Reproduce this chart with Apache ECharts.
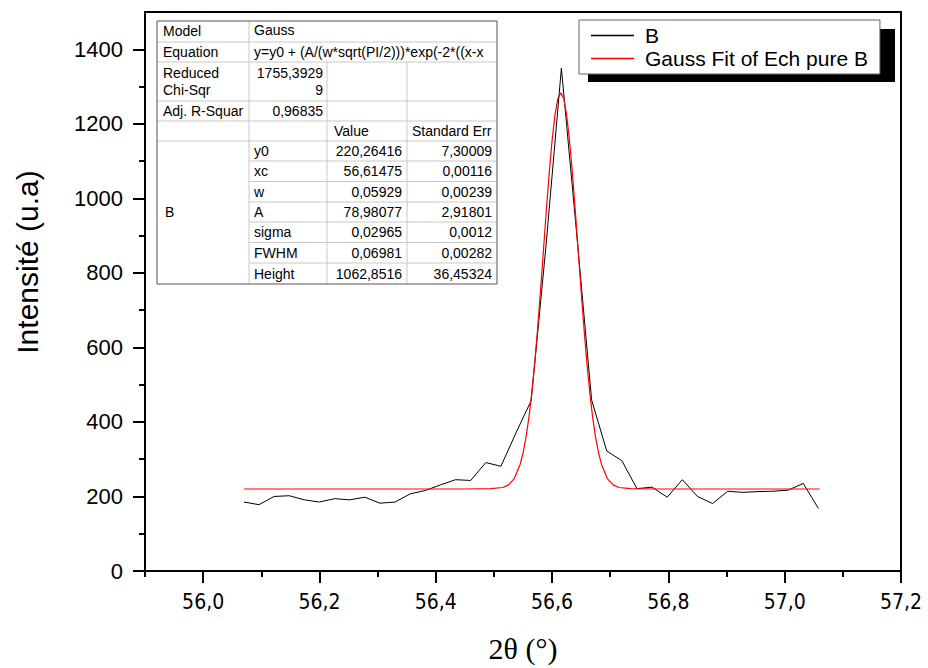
<!DOCTYPE html>
<html>
<head>
<meta charset="utf-8">
<title>Gauss fit B</title>
<script src="https://cdn.jsdelivr.net/npm/echarts@6/dist/echarts.min.js"></script>
<style>
  html, body { margin: 0; padding: 0; background: #fff; }
  #main { width: 928px; height: 668px; }
</style>
</head>
<body>
<div id="main"></div>
<script>
// ---------------- données ----------------
// points mesurés (2θ, intensité)
var xB = [56.070, 56.096, 56.122, 56.148, 56.174, 56.200, 56.226, 56.252, 56.278, 56.304,
          56.330, 56.356, 56.382, 56.408, 56.434, 56.460, 56.486, 56.512, 56.538, 56.564,
          56.590, 56.616, 56.642, 56.668, 56.694, 56.720, 56.746, 56.772, 56.798, 56.824,
          56.850, 56.876, 56.902, 56.928, 56.954, 56.980, 57.006, 57.032, 57.058];
var yB = [185, 178, 200, 202, 191, 185, 194, 191, 198, 182,
          185, 207, 216, 231, 245, 243, 291, 281, 371, 457,
          880, 1349, 910, 459, 322, 296, 221, 225, 198, 245,
          200, 181, 214, 211, 213, 214, 217, 235, 168];

// courbe rouge (ajustement gaussien)
var xFit = [56.07, 56.45, 56.495, 56.515, 56.525, 56.535, 56.545, 56.55, 56.555, 56.56,
            56.565, 56.57, 56.575, 56.58, 56.585, 56.59, 56.595, 56.60, 56.605, 56.61,
            56.615,
            56.62, 56.625, 56.63, 56.635, 56.64, 56.645, 56.65, 56.655, 56.66, 56.665,
            56.67, 56.675, 56.68, 56.685, 56.695, 56.705, 56.715, 56.735, 56.78, 57.06];
var yFit = [220, 220, 221, 224, 231, 248, 286, 316, 357, 410,
            476, 556, 648, 750, 857, 965, 1067, 1155, 1224, 1268,
            1283,
            1268, 1224, 1155, 1067, 965, 857, 750, 648, 556, 476,
            410, 357, 316, 286, 248, 231, 224, 221, 220, 220];

// graduations
var xTicks = [56.0, 56.2, 56.4, 56.6, 56.8, 57.0, 57.2];
var xMinor = [55.9, 56.1, 56.3, 56.5, 56.7, 56.9, 57.1];
var yTicks = [0, 200, 400, 600, 800, 1000, 1200, 1400];
var yMinor = [100, 300, 500, 700, 900, 1100, 1300];

// tableau des paramètres
var paramNames = ['y0', 'xc', 'w', 'A', 'sigma', 'FWHM', 'Height'];
var paramValues = ['220,26416', '56,61475', '0,05929', '78,98077', '0,02965', '0,06981', '1062,8516'];
var paramErrors = ['7,30009', '0,00116', '0,00239', '2,91801', '0,0012', '0,00282', '36,45324'];

// ---------------- graphique ----------------
var chart = echarts.init(document.getElementById('main'), null, { renderer: 'svg' });

function pairs(xs, ys) {
  var out = [];
  for (var i = 0; i < xs.length; i++) out.push([xs[i], ys[i]]);
  return out;
}
function comma(v) { return v.toFixed(1).replace('.', ','); }

// table (dessinée avec des éléments graphic)
var cols = [157, 249, 327, 407, 497];
var rows = [21, 42, 62, 101, 121, 141, 161, 181.5, 202, 222, 242.5, 263, 284];
var tblFont = '14px "Liberation Sans", Arial, sans-serif';
var gridLine = '#c8c8c8';
var tbl = [];
tbl.push({ type: 'rect', shape: { x: cols[0], y: rows[0], width: cols[4] - cols[0], height: rows[12] - rows[0] },
           style: { fill: '#fff', stroke: null }, z: 10 });
function hline(y, x1, x2) {
  tbl.push({ type: 'line', shape: { x1: x1, y1: y, x2: x2, y2: y }, style: { stroke: gridLine, lineWidth: 1 }, z: 11 });
}
function vline(x, y1, y2) {
  tbl.push({ type: 'line', shape: { x1: x, y1: y1, x2: x, y2: y2 }, style: { stroke: gridLine, lineWidth: 1 }, z: 11 });
}
function txt(s, x, y, align) {
  tbl.push({ type: 'text', x: x, y: y, z: 12,
             style: { text: s, font: tblFont, fill: '#000', align: align || 'left', verticalAlign: 'middle' } });
}
for (var r = 1; r <= 5; r++) hline(rows[r], cols[0], cols[4]);
for (var r2 = 6; r2 <= 11; r2++) hline(rows[r2], cols[1], cols[4]);
vline(cols[1], rows[0], rows[12]);
vline(cols[2], rows[2], rows[12]);
vline(cols[3], rows[2], rows[12]);
tbl.push({ type: 'rect', shape: { x: cols[0], y: rows[0], width: cols[4] - cols[0], height: rows[12] - rows[0] },
           style: { fill: null, stroke: '#555', lineWidth: 1 }, z: 13 });

txt('Model', 163, 31);
txt('Gauss', 254, 30);
txt('Equation', 163, 52);
txt('y=y0 + (A/(w*sqrt(PI/2)))*exp(-2*((x-x', 254, 52);
txt('Reduced', 163, 73);
txt('Chi-Sqr', 163, 90);
txt('1755,3929', 323, 73, 'right');
txt('9', 323, 90, 'right');
txt('Adj. R-Squar', 163, 111);
txt('0,96835', 323, 111, 'right');
txt('Value', 334, 131);
txt('Standard Err', 412, 131);
txt('B', 165, 212);
for (var k = 0; k < paramNames.length; k++) {
  var cy = (rows[5 + k] + rows[6 + k]) / 2;
  txt(paramNames[k], 254, cy);
  txt(paramValues[k], 402, cy, 'right');
  txt(paramErrors[k], 492, cy, 'right');
}

var option = {
  animation: false,
  backgroundColor: '#fff',
  grid: {
    left: 145, right: 27, top: 12, bottom: 91,
    show: true, borderColor: '#000', borderWidth: 2, backgroundColor: 'transparent'
  },
  legend: {
    left: 579, top: 20,
    orient: 'vertical',
    data: ['B', 'Gauss Fit of Ech pure B'],
    icon: 'rect',
    itemWidth: 43, itemHeight: 1.5, itemGap: 0,
    padding: [4, 12, 4, 12],
    backgroundColor: '#fff',
    borderColor: '#666', borderWidth: 1,
    textStyle: { fontFamily: '"Liberation Sans", Arial, sans-serif', fontSize: 21, color: '#000',
                 lineHeight: 23, padding: [0, 0, 0, 6] },
    z: 20
  },
  xAxis: [{
    type: 'value', min: 55.9, max: 57.2, position: 'bottom',
    name: '2θ (°)', nameLocation: 'middle', nameGap: 62,
    nameTextStyle: { fontFamily: '"Liberation Serif", "Times New Roman", serif', fontSize: 30, color: '#000' },
    axisLine: { show: true, lineStyle: { color: '#000', width: 2 } },
    axisTick: { show: true, inside: false, length: 12, customValues: xTicks, lineStyle: { color: '#000', width: 2 } },
    axisLabel: { customValues: xTicks, margin: 20, color: '#000', fontSize: 21,
                 fontFamily: '"Liberation Sans Narrow", "DejaVu Sans Condensed", "Liberation Sans", sans-serif',
                 formatter: comma },
    splitLine: { show: false }
  }, {
    type: 'value', min: 55.9, max: 57.2, position: 'bottom',
    axisLine: { show: false },
    axisTick: { show: true, inside: false, length: 6, customValues: xMinor, lineStyle: { color: '#000', width: 2 } },
    axisLabel: { show: false },
    splitLine: { show: false }
  }],
  yAxis: [{
    type: 'value', min: 0, max: 1500, position: 'left',
    axisLine: { show: true, lineStyle: { color: '#000', width: 2 } },
    axisTick: { show: true, inside: false, length: 12, customValues: yTicks, lineStyle: { color: '#000', width: 2 } },
    axisLabel: { customValues: yTicks, margin: 22, color: '#000', fontSize: 22,
                 fontFamily: '"Liberation Sans", Arial, sans-serif',
                 formatter: function (v) { return String(v); } },
    splitLine: { show: false }
  }, {
    type: 'value', min: 0, max: 1500, position: 'left',
    axisLine: { show: false },
    axisTick: { show: true, inside: false, length: 6, customValues: yMinor, lineStyle: { color: '#000', width: 2 } },
    axisLabel: { show: false },
    splitLine: { show: false }
  }],
  graphic: [
    // ombre du cadre de légende
    { type: 'rect', shape: { x: 588, y: 29, width: 307, height: 53 }, style: { fill: '#000' }, z: 5 },
    // titre axe Y
    { type: 'text', x: 27, y: 262, rotation: Math.PI / 2, z: 5,
      style: { text: 'Intensité (u.a)', font: '30px "Liberation Sans", Arial, sans-serif', fill: '#000',
               align: 'center', verticalAlign: 'middle' } },
    { type: 'group', children: tbl, z: 10 }
  ],
  series: [{
    name: 'B', type: 'line', data: pairs(xB, yB),
    showSymbol: false, symbol: 'none',
    itemStyle: { color: '#000' },
    lineStyle: { color: '#000', width: 1 },
    z: 2
  }, {
    name: 'Gauss Fit of Ech pure B', type: 'line', data: pairs(xFit, yFit),
    showSymbol: false, symbol: 'none',
    itemStyle: { color: '#ff0000' },
    lineStyle: { color: '#ff0000', width: 1.2 },
    z: 3
  }]
};
chart.setOption(option);
</script>
</body>
</html>
